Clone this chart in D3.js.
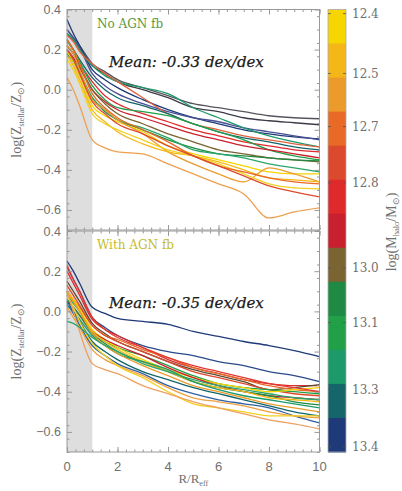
<!DOCTYPE html>
<html>
<head>
<meta charset="utf-8">
<script src="https://cdn.jsdelivr.net/npm/d3@7"></script>
<style>
  body { margin: 0; background: #fff; }
  text { fill: #707070; }
</style>
</head>
<body>
<svg width="402" height="491"></svg>
<script>
// radii (R/Reff) at which every profile is sampled
const radii = [0, 0.25, 0.5, 1, 1.5, 2, 3, 4, 5, 6, 7, 8, 9, 10];
const xTicks = [0, 2, 4, 6, 8, 10];
const yTicks = [0.4, 0.2, 0.0, -0.2, -0.4, -0.6];

// colour bar, top (low mass) to bottom (high mass)
const bandColors = ["#f6d500", "#f5b718", "#eb9b2c", "#e86a26", "#dc4a2e", "#df2a2c", "#c8202e",
                    "#7a6432", "#1e8a44", "#22a048", "#1c9a6a", "#14666a", "#1e3a78"];
const bandLabels = ["12.4", "12.5", "12.7", "12.8", "13.0", "13.1", "13.3", "13.4"];
const bandLabelPos = [0.12, 1.88, 3.44, 5.09, 7.59, 9.2, 11.15, 12.85];

// No AGN feedback
const noAgnColors = ["#55555e", "#3c3c48", "#1e3a78", "#4a4f92", "#1c9a6a", "#e0603e", "#14666a",
                     "#df2a2c", "#22a048", "#c8202e", "#7a6432", "#1e8a44", "#2aa66a", "#f6d500",
                     "#eb9b2c", "#f5b718", "#f2d020", "#e86a26", "#dc4a2e", "#eda050"];
const noAgnProfiles = [
  [0.30, 0.26, 0.22, 0.13, 0.09, 0.05, 0.01, -0.03, -0.07, -0.09, -0.11, -0.13, -0.14, -0.145],
  [0.28, 0.25, 0.21, 0.12, 0.08, 0.04, 0.0, -0.04, -0.09, -0.11, -0.14, -0.155, -0.165, -0.175],
  [0.35, 0.28, 0.22, 0.10, 0.05, 0.01, -0.05, -0.10, -0.14, -0.17, -0.20, -0.22, -0.235, -0.245],
  [0.30, 0.26, 0.21, 0.08, 0.02, -0.02, -0.07, -0.11, -0.14, -0.16, -0.19, -0.21, -0.23, -0.25],
  [0.28, 0.25, 0.20, 0.12, 0.07, 0.04, 0.01, -0.02, -0.09, -0.14, -0.19, -0.23, -0.26, -0.285],
  [0.27, 0.24, 0.19, 0.13, 0.08, 0.04, -0.04, -0.12, -0.17, -0.20, -0.23, -0.25, -0.27, -0.285],
  [0.25, 0.20, 0.15, 0.06, 0.0, -0.04, -0.08, -0.12, -0.17, -0.21, -0.24, -0.26, -0.285, -0.30],
  [0.22, 0.18, 0.13, 0.04, -0.03, -0.07, -0.12, -0.16, -0.20, -0.23, -0.26, -0.28, -0.30, -0.31],
  [0.24, 0.20, 0.14, 0.02, -0.05, -0.09, -0.11, -0.13, -0.17, -0.21, -0.25, -0.30, -0.33, -0.35],
  [0.20, 0.16, 0.11, 0.0, -0.06, -0.10, -0.14, -0.18, -0.22, -0.25, -0.28, -0.30, -0.32, -0.34],
  [0.22, 0.18, 0.12, 0.0, -0.07, -0.12, -0.17, -0.22, -0.26, -0.30, -0.32, -0.34, -0.35, -0.36],
  [0.18, 0.14, 0.08, -0.04, -0.11, -0.15, -0.20, -0.25, -0.29, -0.32, -0.33, -0.34, -0.35, -0.355],
  [0.20, 0.15, 0.09, -0.04, -0.10, -0.15, -0.19, -0.24, -0.30, -0.32, -0.34, -0.37, -0.39, -0.41],
  [0.19, 0.14, 0.07, -0.08, -0.13, -0.16, -0.21, -0.28, -0.32, -0.35, -0.38, -0.41, -0.42, -0.42],
  [0.22, 0.18, 0.10, -0.05, -0.10, -0.15, -0.22, -0.31, -0.37, -0.42, -0.46, -0.39, -0.42, -0.46],
  [0.17, 0.12, 0.05, -0.10, -0.16, -0.21, -0.27, -0.31, -0.33, -0.36, -0.40, -0.44, -0.45, -0.46],
  [0.15, 0.10, 0.03, -0.12, -0.17, -0.20, -0.25, -0.30, -0.33, -0.37, -0.42, -0.47, -0.49, -0.495],
  [0.25, 0.20, 0.13, -0.02, -0.09, -0.14, -0.20, -0.26, -0.33, -0.38, -0.41, -0.44, -0.46, -0.47],
  [0.20, 0.15, 0.08, -0.06, -0.12, -0.17, -0.22, -0.28, -0.33, -0.38, -0.43, -0.48, -0.51, -0.535],
  [0.06, 0.0, -0.08, -0.25, -0.29, -0.31, -0.32, -0.37, -0.42, -0.47, -0.52, -0.64, -0.61, -0.59]
];

// With AGN feedback
const withAgnColors = ["#1e3a78", "#2a4a8a", "#df2a2c", "#5a4a30", "#e86a26", "#dc4a2e", "#22a048",
                       "#f6d500", "#c8202e", "#1e8a44", "#f5b718", "#1c9a6a", "#eb9b2c", "#14666a",
                       "#3060a0", "#f0a040", "#f2d020", "#eea060", "#e03a30", "#2aa66a"];
const withAgnProfiles = [
  [0.25, 0.20, 0.14, 0.02, -0.01, -0.035, -0.05, -0.065, -0.10, -0.125, -0.15, -0.17, -0.195, -0.225],
  [0.22, 0.16, 0.10, -0.03, -0.08, -0.12, -0.17, -0.20, -0.22, -0.25, -0.27, -0.30, -0.32, -0.35],
  [0.20, 0.14, 0.08, -0.04, -0.09, -0.12, -0.18, -0.24, -0.28, -0.31, -0.34, -0.36, -0.37, -0.37],
  [0.15, 0.10, 0.05, -0.06, -0.11, -0.15, -0.20, -0.25, -0.29, -0.32, -0.35, -0.39, -0.38, -0.365],
  [0.10, 0.06, 0.02, -0.07, -0.12, -0.14, -0.19, -0.23, -0.28, -0.31, -0.34, -0.37, -0.39, -0.40],
  [0.13, 0.08, 0.03, -0.07, -0.12, -0.15, -0.20, -0.25, -0.30, -0.33, -0.36, -0.39, -0.41, -0.42],
  [0.08, 0.04, 0.0, -0.10, -0.15, -0.18, -0.22, -0.27, -0.32, -0.36, -0.38, -0.39, -0.40, -0.41],
  [0.10, 0.06, 0.01, -0.09, -0.14, -0.18, -0.24, -0.29, -0.33, -0.36, -0.38, -0.40, -0.39, -0.38],
  [0.05, 0.02, -0.02, -0.10, -0.14, -0.17, -0.22, -0.28, -0.33, -0.37, -0.40, -0.42, -0.43, -0.44],
  [0.06, 0.02, -0.02, -0.11, -0.16, -0.20, -0.25, -0.30, -0.35, -0.38, -0.40, -0.42, -0.45, -0.465],
  [0.09, 0.05, 0.0, -0.10, -0.15, -0.19, -0.25, -0.30, -0.35, -0.38, -0.40, -0.43, -0.44, -0.45],
  [0.03, 0.0, -0.04, -0.12, -0.17, -0.21, -0.25, -0.29, -0.35, -0.39, -0.42, -0.44, -0.46, -0.48],
  [0.10, 0.05, 0.0, -0.11, -0.17, -0.21, -0.27, -0.32, -0.37, -0.40, -0.43, -0.46, -0.48, -0.50],
  [0.05, 0.0, -0.05, -0.15, -0.20, -0.24, -0.30, -0.34, -0.38, -0.41, -0.44, -0.47, -0.50, -0.52],
  [0.04, -0.01, -0.07, -0.17, -0.22, -0.26, -0.31, -0.37, -0.41, -0.44, -0.46, -0.48, -0.52, -0.555],
  [0.02, -0.03, -0.08, -0.19, -0.24, -0.27, -0.32, -0.38, -0.43, -0.45, -0.47, -0.50, -0.52, -0.53],
  [0.08, 0.02, -0.05, -0.16, -0.22, -0.27, -0.33, -0.40, -0.46, -0.48, -0.50, -0.52, -0.52, -0.52],
  [0.10, 0.0, -0.10, -0.26, -0.29, -0.31, -0.37, -0.41, -0.45, -0.48, -0.51, -0.54, -0.56, -0.585],
  [0.23, 0.16, 0.10, -0.03, -0.09, -0.13, -0.18, -0.23, -0.27, -0.30, -0.33, -0.36, -0.38, -0.40],
  [-0.05, -0.06, -0.08, -0.13, -0.17, -0.20, -0.26, -0.30, -0.34, -0.37, -0.39, -0.41, -0.43, -0.44]
];

const svg = d3.select("svg");
const left = 67, right = 319.5;
const x = d3.scaleLinear().domain([0, 10]).range([left, right]);

function drawPanel(top, bottom, profiles, colors, title, titleColor, meanText, showX) {
  const y = d3.scaleLinear().domain([-0.7, 0.4]).range([bottom, top]);
  const g = svg.append("g");

  // inner region R < Reff
  g.append("rect")
    .attr("x", x(0)).attr("y", top)
    .attr("width", x(1) - x(0)).attr("height", bottom - top)
    .attr("fill", "#dedede");

  const line = d3.line()
    .x((d, i) => x(radii[i]))
    .y(d => y(d))
    .curve(d3.curveMonotoneX);

  g.selectAll(".prof")
    .data(profiles)
    .enter().append("path")
    .attr("class", "prof")
    .attr("d", line)
    .attr("fill", "none")
    .attr("stroke", (d, i) => colors[i])
    .attr("stroke-width", 1.3)
    .attr("stroke-linejoin", "round");

  // ticks pointing inwards on all four sides
  const xMinor = d3.range(0, 10.01, 1 / 3);
  const yMinor = d3.range(-0.7, 0.401, 0.2 / 3);
  const axes = [
    [d3.axisBottom(x), `translate(0,${bottom})`, xTicks, xMinor],
    [d3.axisTop(x), `translate(0,${top})`, xTicks, xMinor],
    [d3.axisLeft(y), `translate(${left},0)`, yTicks, yMinor],
    [d3.axisRight(y), `translate(${right},0)`, yTicks, yMinor]
  ];
  axes.forEach(([ax, tr, major, minor]) => {
    const a1 = g.append("g").attr("transform", tr)
      .call(ax.tickValues(minor).tickSize(-2.5).tickFormat(""));
    a1.select(".domain").remove();
    a1.selectAll("line").attr("stroke", "#999");
    const a2 = g.append("g").attr("transform", tr)
      .call(ax.tickValues(major).tickSize(-5).tickFormat(""));
    a2.select(".domain").remove();
    a2.selectAll("line").attr("stroke", "#999");
  });

  g.append("rect")
    .attr("x", left).attr("y", top)
    .attr("width", right - left).attr("height", bottom - top)
    .attr("fill", "none").attr("stroke", "#999").attr("stroke-width", 1);

  // y tick labels
  g.selectAll(".ylab")
    .data(yTicks)
    .enter().append("text")
    .attr("x", left - 6)
    .attr("y", d => y(d) + 4.5)
    .attr("text-anchor", "end")
    .style("font", "12.5px 'Liberation Sans', Arial, sans-serif")
    .text(d => d3.format(".1f")(d));

  // y title
  const yt = g.append("text")
    .attr("transform", `translate(21,${(top + bottom) / 2}) rotate(-90)`)
    .attr("text-anchor", "middle")
    .style("font", "14px 'Liberation Serif', serif");
  yt.append("tspan").text("log(Z");
  yt.append("tspan").attr("dy", 3).style("font-size", "8px").text("stellar");
  yt.append("tspan").attr("dy", -3).text("/Z");
  yt.append("tspan").attr("dy", 3).style("font-size", "8.5px").text("\u2299");
  yt.append("tspan").attr("dy", -3).text(")");

  g.append("text")
    .attr("x", 97).attr("y", top + 18)
    .style("font", "12px 'DejaVu Serif', serif")
    .style("fill", titleColor)
    .text(title);

  g.append("text")
    .attr("x", 109).attr("y", meanText.y)
    .style("font", "italic 15px 'DejaVu Serif', serif")
    .style("fill", "#1a1a1a")
    .style("stroke", "#1a1a1a").style("stroke-width", 0.25)
    .text(meanText.label);

  if (showX) {
    g.selectAll(".xlab")
      .data(xTicks)
      .enter().append("text")
      .attr("x", d => x(d))
      .attr("y", bottom + 19)
      .attr("text-anchor", "middle")
      .style("font", "13px 'Liberation Sans', Arial, sans-serif")
      .text(d => d);

    const xt = g.append("text")
      .attr("x", (left + right) / 2).attr("y", bottom + 31)
      .attr("text-anchor", "middle")
      .style("font", "13px 'Liberation Serif', serif");
    xt.append("tspan").text("R/R");
    xt.append("tspan").attr("dy", 3).style("font-size", "8px").text("eff");
  }
}

drawPanel(9.5, 230, noAgnProfiles, noAgnColors, "No AGN fb", "#5a9a3e",
          { label: "Mean: -0.33 dex/dex", y: 67 }, false);
drawPanel(231, 452, withAgnProfiles, withAgnColors, "With AGN fb", "#c4bc2c",
          { label: "Mean: -0.35 dex/dex", y: 308 }, true);

// colour bar
const cbX = 328, cbW = 18;
const cy = d3.scaleLinear().domain([0, bandColors.length]).range([9.5, 452]);
const cb = svg.append("g");
cb.selectAll(".band")
  .data(bandColors)
  .enter().append("rect")
  .attr("x", cbX)
  .attr("y", (d, i) => cy(i))
  .attr("width", cbW)
  .attr("height", (d, i) => cy(i + 1) - cy(i) + 0.5)
  .attr("fill", d => d);
cb.append("rect")
  .attr("x", cbX).attr("y", cy(0))
  .attr("width", cbW).attr("height", cy(bandColors.length) - cy(0))
  .attr("fill", "none").attr("stroke", "#aaa").attr("stroke-width", 0.8);

cb.selectAll(".ctick")
  .data(bandLabelPos)
  .enter().append("path")
  .attr("d", d => `M${cbX},${cy(d)}h3M${cbX + cbW},${cy(d)}h-3`)
  .attr("stroke", "#555").attr("stroke-width", 0.8);

cb.selectAll(".clab")
  .data(bandLabels)
  .enter().append("text")
  .attr("x", cbX + cbW + 6)
  .attr("y", (d, i) => cy(bandLabelPos[i]) + 4.5)
  .style("font", "12px 'DejaVu Serif', serif")
  .text(d => d);

const ct = cb.append("text")
  .attr("transform", "translate(396,232) rotate(-90)")
  .attr("text-anchor", "middle")
  .style("font", "14px 'Liberation Serif', serif");
ct.append("tspan").text("log(M");
ct.append("tspan").attr("dy", 3).style("font-size", "8.5px").text("halo");
ct.append("tspan").attr("dy", -3).text("/M");
ct.append("tspan").attr("dy", 3).style("font-size", "8.5px").text("\u2299");
ct.append("tspan").attr("dy", -3).text(")");
</script>
</body>
</html>
